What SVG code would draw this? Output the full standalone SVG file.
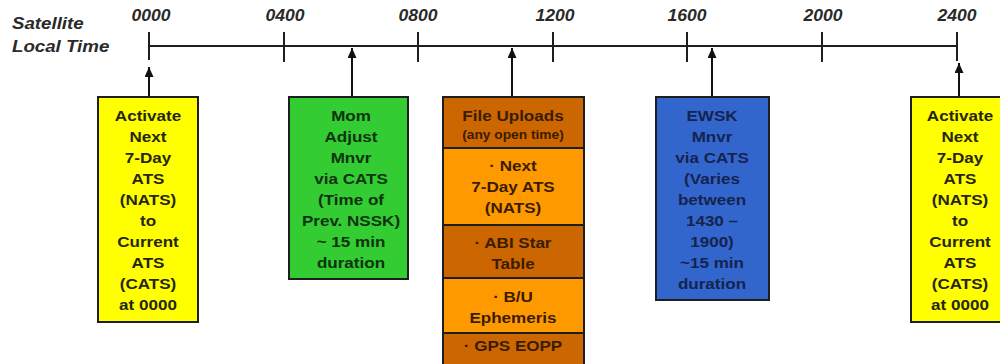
<svg xmlns="http://www.w3.org/2000/svg" width="1000" height="364" viewBox="0 0 1000 364">
<defs>
<style>
.t{font-family:"Liberation Sans",Arial,sans-serif;font-weight:bold;font-size:15.5px;text-anchor:middle}
.s{font-family:"Liberation Sans",Arial,sans-serif;font-weight:bold;font-size:12.5px;text-anchor:middle}
.h{font-family:"Liberation Sans",Arial,sans-serif;font-weight:bold;font-style:italic;font-size:16px;fill:#2a2a2a}
.box{stroke:#1e1e1e;stroke-width:2}
.ln{stroke:#1e1e1e;stroke-width:2;fill:none}
.arr{stroke:#111;stroke-width:2;fill:none;marker-end:url(#ah)}
</style>
<marker id="ah" markerUnits="userSpaceOnUse" markerWidth="10" markerHeight="9" refX="10" refY="4.5" orient="auto">
<path d="M0,0 L10,4.5 L0,9 z" fill="#111"/>
</marker>
</defs>
<rect width="1000" height="364" fill="#fff"/>

<g id="axis">
<g transform="translate(12,0) scale(1.1,1)">
<text class="h" x="0" y="29" style="font-size:17px;text-anchor:start">Satellite</text>
<text class="h" x="0" y="52" style="font-size:17px;text-anchor:start">Local Time</text>
</g>
<line class="ln" x1="149" y1="46" x2="957" y2="46"/>
<line class="ln" x1="149" y1="32" x2="149" y2="60"/>
<line class="ln" x1="284" y1="32" x2="284" y2="62"/>
<line class="ln" x1="418" y1="32" x2="418" y2="62"/>
<line class="ln" x1="553" y1="32" x2="553" y2="62"/>
<line class="ln" x1="687" y1="32" x2="687" y2="62"/>
<line class="ln" x1="822" y1="32" x2="822" y2="62"/>
<line class="ln" x1="957" y1="32" x2="957" y2="61"/>
<g transform="translate(151,0) scale(1.1,1)"><text class="h" x="0" y="21" text-anchor="middle">0000</text></g>
<g transform="translate(285,0) scale(1.1,1)"><text class="h" x="0" y="21" text-anchor="middle">0400</text></g>
<g transform="translate(418,0) scale(1.1,1)"><text class="h" x="0" y="21" text-anchor="middle">0800</text></g>
<g transform="translate(555,0) scale(1.1,1)"><text class="h" x="0" y="21" text-anchor="middle">1200</text></g>
<g transform="translate(687,0) scale(1.1,1)"><text class="h" x="0" y="21" text-anchor="middle">1600</text></g>
<g transform="translate(823,0) scale(1.1,1)"><text class="h" x="0" y="21" text-anchor="middle">2000</text></g>
<g transform="translate(957,0) scale(1.1,1)"><text class="h" x="0" y="21" text-anchor="middle">2400</text></g>
</g>

<g id="connectors">
<line class="arr" x1="149" y1="98" x2="149" y2="67"/>
<line class="arr" x1="352" y1="98" x2="352" y2="48"/>
<line class="arr" x1="512" y1="98" x2="512" y2="48"/>
<line class="arr" x1="712" y1="98" x2="712" y2="48"/>
<line class="arr" x1="959" y1="98" x2="959" y2="63"/>
</g>

<g id="activate-left">
<rect class="box" x="98" y="97" width="100" height="225" fill="#ffff00"/>
<g transform="translate(148,0) scale(1.1,1)" fill="#262610">
<text class="t" x="0" y="121">Activate</text>
<text class="t" x="0" y="142">Next</text>
<text class="t" x="0" y="163">7-Day</text>
<text class="t" x="0" y="184">ATS</text>
<text class="t" x="0" y="205">(NATS)</text>
<text class="t" x="0" y="226">to</text>
<text class="t" x="0" y="247">Current</text>
<text class="t" x="0" y="268">ATS</text>
<text class="t" x="0" y="289">(CATS)</text>
<text class="t" x="0" y="310">at 0000</text>
</g>
</g>

<g id="mom-adjust">
<rect class="box" x="289" y="97" width="119" height="182" fill="#33cc33"/>
<g transform="translate(351,0) scale(1.1,1)" fill="#0f330f">
<text class="t" x="0" y="121">Mom</text>
<text class="t" x="0" y="142">Adjust</text>
<text class="t" x="0" y="163">Mnvr</text>
<text class="t" x="0" y="184">via CATS</text>
<text class="t" x="0" y="205">(Time of</text>
<text class="t" x="0" y="226">Prev. NSSK)</text>
<text class="t" x="0" y="247">~ 15 min</text>
<text class="t" x="0" y="268">duration</text>
</g>
</g>

<g id="file-uploads">
<rect class="box" x="443" y="97" width="141" height="51" fill="#cc6600"/>
<rect class="box" x="443" y="148" width="141" height="77" fill="#ff9900"/>
<rect class="box" x="443" y="225" width="141" height="53" fill="#cc6600"/>
<rect class="box" x="443" y="278" width="141" height="55" fill="#ff9900"/>
<rect class="box" x="443" y="333" width="141" height="40" fill="#cc6600"/>
<g transform="translate(513,0) scale(1.1,1)" fill="#3a1c00">
<text class="t" x="0" y="121">File Uploads</text>
<text class="s" x="0" y="139">(any open time)</text>
<text class="t" x="0" y="171">· Next</text>
<text class="t" x="0" y="192">7-Day ATS</text>
<text class="t" x="0" y="213">(NATS)</text>
<text class="t" x="0" y="248">· ABI Star</text>
<text class="t" x="0" y="269">Table</text>
<text class="t" x="0" y="302">· B/U</text>
<text class="t" x="0" y="323">Ephemeris</text>
<text class="t" x="0" y="351">· GPS EOPP</text>
</g>
</g>

<g id="ewsk">
<rect class="box" x="656" y="97" width="113" height="203" fill="#3366cc"/>
<g transform="translate(712,0) scale(1.1,1)" fill="#15234f">
<text class="t" x="0" y="121">EWSK</text>
<text class="t" x="0" y="142">Mnvr</text>
<text class="t" x="0" y="163">via CATS</text>
<text class="t" x="0" y="184">(Varies</text>
<text class="t" x="0" y="205">between</text>
<text class="t" x="0" y="226">1430 –</text>
<text class="t" x="0" y="247">1900)</text>
<text class="t" x="0" y="268">~15 min</text>
<text class="t" x="0" y="289">duration</text>
</g>
</g>

<g id="activate-right">
<rect class="box" x="911" y="97" width="100" height="225" fill="#ffff00"/>
<g transform="translate(960,0) scale(1.1,1)" fill="#262610">
<text class="t" x="0" y="121">Activate</text>
<text class="t" x="0" y="142">Next</text>
<text class="t" x="0" y="163">7-Day</text>
<text class="t" x="0" y="184">ATS</text>
<text class="t" x="0" y="205">(NATS)</text>
<text class="t" x="0" y="226">to</text>
<text class="t" x="0" y="247">Current</text>
<text class="t" x="0" y="268">ATS</text>
<text class="t" x="0" y="289">(CATS)</text>
<text class="t" x="0" y="310">at 0000</text>
</g>
</g>
</svg>
